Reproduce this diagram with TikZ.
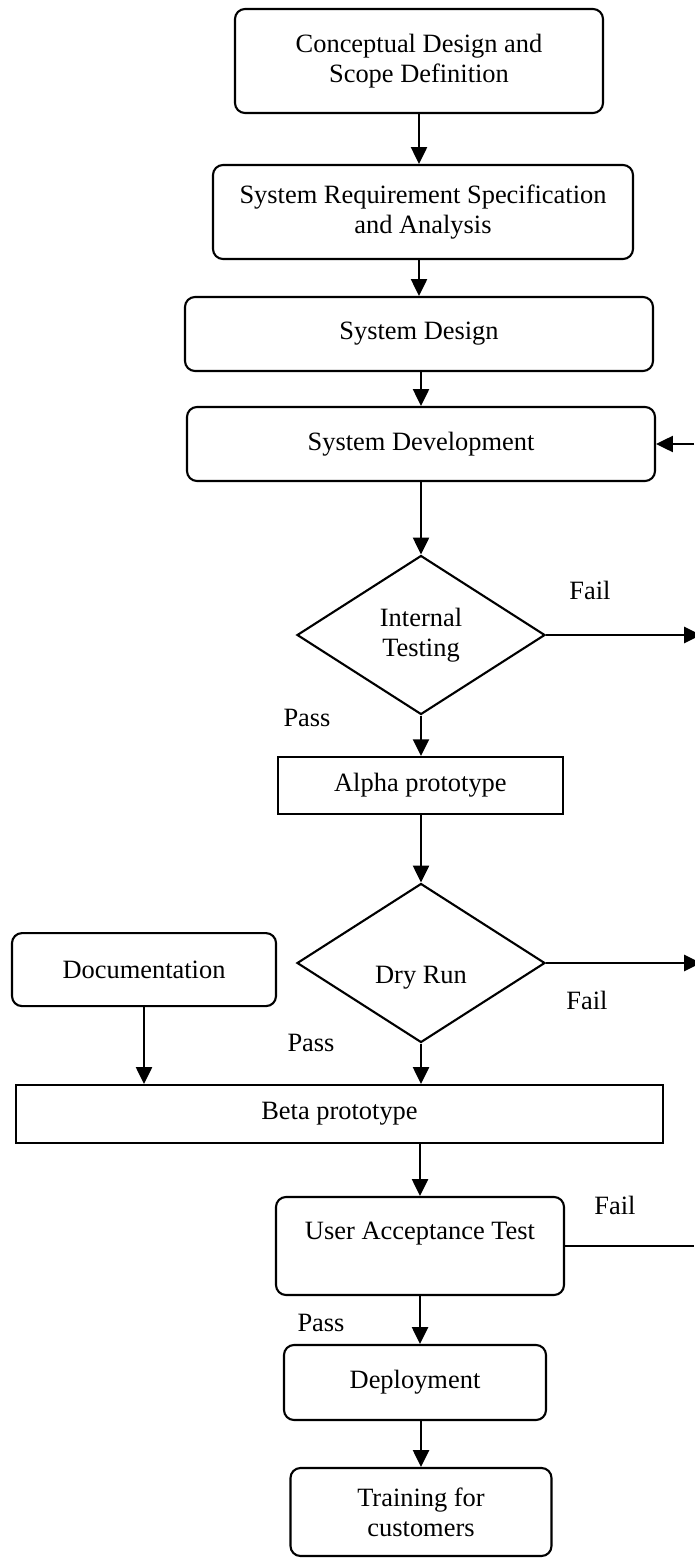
\documentclass[tikz,border=0pt]{standalone}
\usepackage{fontspec}
\setmainfont{Liberation Serif}
\usepackage{tikz}
\usetikzlibrary{shapes.geometric}
\usetikzlibrary{arrows.meta}

\begin{document}
\begin{tikzpicture}
[>={Triangle[length=4.2mm,width=4mm]},
font=\fontsize{18.8}{21.3}\selectfont,
stage/.style={rectangle,draw=black,line width=1.5pt,rounded corners=2.5mm,align=center,inner sep=0pt},
proto/.style={rectangle,draw=black,line width=1.5pt,inner sep=0pt},
test/.style={diamond,draw=black,line width=1.5pt,align=center,inner sep=0pt,minimum width=6.2cm,minimum height=3.975cm},
flow/.style={->,draw=black,line width=1.5pt},
plain/.style={-,draw=black,line width=1.5pt}]
\useasboundingbox (0,0) rectangle (17.35,-38.95);

\node at (10.475,-1.525)  [stage,minimum width=9.2cm,minimum height=2.6cm]    (concept) {Conceptual Design and\\Scope Definition};
\node at (10.575,-5.3)    [stage,minimum width=10.5cm,minimum height=2.35cm]  (req)     {System Requirement Specification\\and Analysis};
\node at (10.475,-8.35)   [stage,minimum width=11.7cm,minimum height=1.85cm]  (design)  {System Design};
\node at (10.525,-11.1)   [stage,minimum width=11.7cm,minimum height=1.85cm]  (develop) {System Development};
\node at (10.525,-15.875) [test]                                              (intest)  {Internal\\Testing};
\node at (10.51,-19.64)   [proto,minimum width=7.125cm,minimum height=1.425cm] (alpha)  {Alpha prototype};
\node at (10.525,-24.075) [test]                                              (dryrun)  {\raisebox{-0.52cm}[0pt][0pt]{Dry Run}};
\node at (3.6,-24.24)     [stage,minimum width=6.6cm,minimum height=1.825cm]  (doc)     {Documentation};
\node at (8.4875,-27.85)  [proto,minimum width=16.175cm,minimum height=1.45cm] (beta)   {Beta prototype};
\node at (10.5,-31.15)    [stage,minimum width=7.2cm,minimum height=2.45cm]   (uat)     {User Acceptance Test\\\mbox{}};
\node at (10.375,-34.5625) [stage,minimum width=6.55cm,minimum height=1.875cm] (deploy) {Deployment};
\node at (10.525,-37.8)   [stage,minimum width=6.525cm,minimum height=2.2cm]  (train)   {Training for\\customers};

% loose ends at the right margin
\coordinate (itfail)  at (17.525,-15.875);
\coordinate (dryfail) at (17.525,-24.075);
\coordinate (uatfail) at (17.35,-31.15);
\coordinate (redo)    at (17.35,-11.1);

\draw [flow] (concept.south) to (concept.south |- req.north);
\draw [flow] (design.north |- req.south) to (design.north);
\draw [flow] (develop.north |- design.south) to (develop.north);
\draw [flow] (develop.south) to (intest.north);
\draw [flow] (intest.south) to (intest.south |- alpha.north);
\draw [flow] (dryrun.north |- alpha.south) to (dryrun.north);
\draw [flow] (dryrun.south) to (dryrun.south |- beta.north);
\draw [flow] (doc.south) to (doc.south |- beta.north);
\draw [flow] (uat.north |- beta.south) to (uat.north);
\draw [flow] (uat.south) to (uat.south |- deploy.north);
\draw [flow] (train.north |- deploy.south) to (train.north);

\draw [flow]  (intest.east) to (itfail);
\draw [flow]  (dryrun.east) to (dryfail);
\draw [plain] (uat.east) to (uatfail);
\draw [flow]  (redo) to (develop.east);

\node at (14.75,-14.75)  (itfaillbl)  {Fail};
\node at (7.675,-17.95)  (itpasslbl)  {Pass};
\node at (14.675,-25.0)  (dryfaillbl) {Fail};
\node at (7.775,-26.075) (drypasslbl) {Pass};
\node at (15.375,-30.125) (uatfaillbl) {Fail};
\node at (8.025,-33.075) (uatpasslbl) {Pass};
\end{tikzpicture}
\end{document}
